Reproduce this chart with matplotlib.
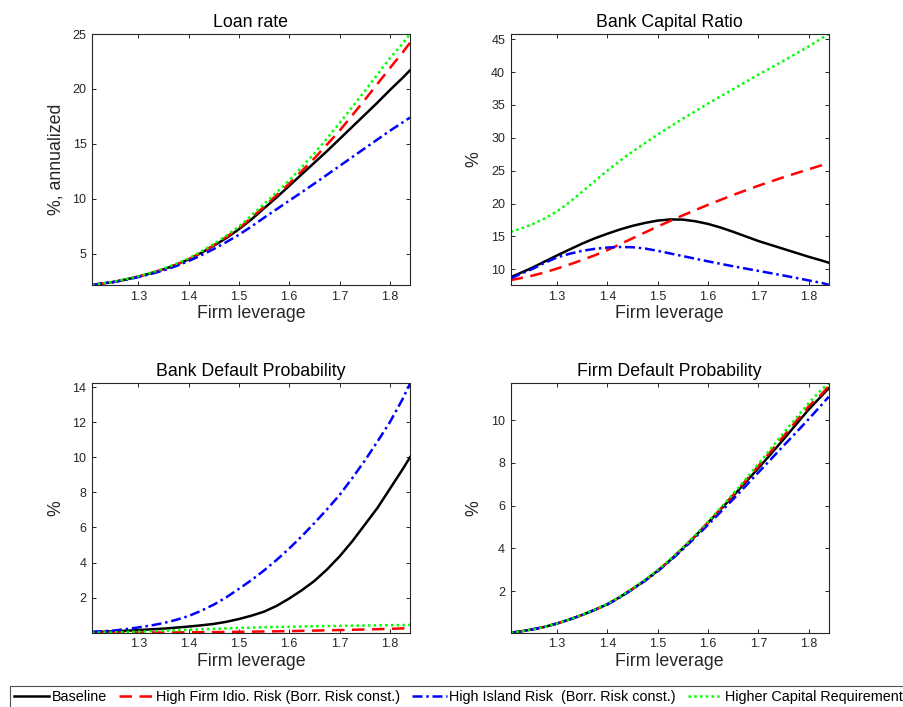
import matplotlib
matplotlib.use("Agg")
import matplotlib.pyplot as plt
from matplotlib.lines import Line2D

plt.rcParams['font.family'] = ['Liberation Sans', 'DejaVu Sans']

# ---------------- data ----------------
leverage = [1.208, 1.225, 1.25, 1.275, 1.30, 1.325, 1.35, 1.375, 1.40, 1.425, 1.45, 1.475,
            1.50, 1.525, 1.55, 1.575, 1.60, 1.625, 1.65, 1.675, 1.70, 1.725, 1.75, 1.775,
            1.80, 1.825, 1.84]

loan_base = [2.18, 2.30, 2.45, 2.68, 2.94, 3.25, 3.60, 4.02, 4.50, 5.10, 5.75, 6.45, 7.25, 8.15,
             9.15, 10.15, 11.2, 12.25, 13.3, 14.35, 15.45, 16.55, 17.65, 18.75, 19.9, 21.0, 21.7]
loan_firm = [2.18, 2.30, 2.45, 2.68, 2.94, 3.25, 3.60, 4.02, 4.50, 5.12, 5.80, 6.55, 7.35, 8.30,
             9.30, 10.35, 11.4, 12.55, 13.7, 14.95, 16.2, 17.6, 19.0, 20.45, 21.9, 23.3, 24.2]
loan_isl = [2.18, 2.30, 2.44, 2.65, 2.90, 3.18, 3.50, 3.90, 4.35, 4.88, 5.45, 6.08, 6.75, 7.50,
            8.30, 9.07, 9.85, 10.62, 11.4, 12.2, 13.0, 13.8, 14.6, 15.4, 16.2, 16.95, 17.4]
loan_cap = [2.18, 2.31, 2.46, 2.70, 2.97, 3.30, 3.66, 4.10, 4.60, 5.22, 5.90, 6.67, 7.50, 8.50,
            9.55, 10.6, 11.7, 12.9, 14.15, 15.5, 16.9, 18.35, 19.8, 21.3, 22.8, 24.1, 25.0]

kr_base = [8.8, 9.35, 10.2, 11.15, 12.1, 13.0, 13.9, 14.7, 15.4, 16.05, 16.6, 17.05, 17.4, 17.58,
           17.55, 17.3, 16.9, 16.35, 15.7, 15.0, 14.3, 13.7, 13.1, 12.5, 11.9, 11.35, 11.0]
kr_firm = [8.35, 8.6, 9.0, 9.5, 10.1, 10.72, 11.4, 12.12, 12.9, 13.8, 14.7, 15.6, 16.5, 17.35,
           18.2, 19.0, 19.8, 20.55, 21.3, 22.0, 22.7, 23.35, 24.0, 24.6, 25.2, 25.8, 26.2]
kr_isl = [8.6, 9.2, 10.0, 10.95, 11.8, 12.35, 12.8, 13.1, 13.3, 13.38, 13.35, 13.15, 12.8, 12.4,
          12.0, 11.6, 11.2, 10.82, 10.45, 10.1, 9.75, 9.4, 9.05, 8.68, 8.3, 7.93, 7.65]
kr_cap = [15.7, 16.1, 16.8, 17.7, 18.8, 20.2, 21.8, 23.4, 25.0, 26.5, 27.9, 29.2, 30.5, 31.7,
          32.9, 34.05, 35.2, 36.3, 37.4, 38.5, 39.6, 40.65, 41.7, 42.8, 43.9, 45.1, 45.8]

bd_base = [0.03, 0.05, 0.08, 0.11, 0.15, 0.19, 0.23, 0.29, 0.35, 0.42, 0.50, 0.62, 0.78, 0.97,
           1.20, 1.53, 1.95, 2.42, 2.95, 3.60, 4.35, 5.20, 6.15, 7.10, 8.20, 9.30, 10.0]
bd_firm = [0.0, 0.003, 0.005, 0.008, 0.01, 0.013, 0.015, 0.018, 0.02, 0.027, 0.035, 0.042, 0.05,
           0.06, 0.07, 0.08, 0.09, 0.105, 0.12, 0.135, 0.15, 0.167, 0.185, 0.20, 0.22, 0.245, 0.26]
bd_isl = [0.05, 0.08, 0.12, 0.20, 0.30, 0.41, 0.55, 0.73, 0.95, 1.25, 1.60, 2.02, 2.50, 3.00,
          3.55, 4.15, 4.80, 5.50, 6.25, 7.03, 7.85, 8.80, 9.80, 10.88, 12.0, 13.3, 14.2]
bd_cap = [0.0, 0.01, 0.02, 0.04, 0.06, 0.085, 0.11, 0.14, 0.17, 0.195, 0.22, 0.245, 0.27, 0.29,
          0.31, 0.325, 0.34, 0.355, 0.37, 0.38, 0.39, 0.40, 0.41, 0.42, 0.43, 0.437, 0.44]

fd_base = [0.05, 0.10, 0.20, 0.32, 0.48, 0.67, 0.88, 1.12, 1.38, 1.72, 2.10, 2.50, 2.95, 3.45,
           4.00, 4.58, 5.20, 5.82, 6.45, 7.10, 7.75, 8.42, 9.10, 9.80, 10.5, 11.12, 11.5]
fd_firm = [0.05, 0.10, 0.20, 0.32, 0.48, 0.67, 0.88, 1.12, 1.38, 1.72, 2.10, 2.50, 2.95, 3.45,
           4.00, 4.58, 5.20, 5.84, 6.50, 7.17, 7.85, 8.55, 9.25, 9.95, 10.65, 11.2, 11.6]
fd_isl = [0.05, 0.10, 0.20, 0.32, 0.48, 0.67, 0.88, 1.12, 1.37, 1.70, 2.08, 2.48, 2.92, 3.42,
          3.95, 4.52, 5.10, 5.70, 6.30, 6.92, 7.55, 8.17, 8.80, 9.42, 10.05, 10.7, 11.1]
fd_cap = [0.05, 0.10, 0.20, 0.32, 0.48, 0.67, 0.89, 1.13, 1.40, 1.74, 2.12, 2.53, 2.98, 3.49,
          4.03, 4.62, 5.25, 5.89, 6.55, 7.24, 7.95, 8.67, 9.40, 10.1, 10.8, 11.42, 11.75]

labels = ["Baseline",
          "High Firm Idio. Risk (Borr. Risk const.)",
          "High Island Risk  (Borr. Risk const.)",
          "Higher Capital Requirement"]
titles = ["Loan rate", "Bank Capital Ratio", "Bank Default Probability", "Firm Default Probability"]
ylabels = ["%, annualized", "%", "%", "%"]
xticks = [1.3, 1.4, 1.5, 1.6, 1.7, 1.8]
yticks = [[5, 10, 15, 20, 25],
          [10, 15, 20, 25, 30, 35, 40, 45],
          [2, 4, 6, 8, 10, 12, 14],
          [2, 4, 6, 8, 10]]
ylims = [(2.18, 25.0), (7.6, 45.8), (0.0, 14.25), (0.05, 11.76)]
xlim = (1.208, 1.84)

panels = [
    (loan_base, loan_firm, loan_isl, loan_cap),
    (kr_base, kr_firm, kr_isl, kr_cap),
    (bd_base, bd_firm, bd_isl, bd_cap),
    (fd_base, fd_firm, fd_isl, fd_cap),
]

styles = [
    dict(color='black', linestyle='-'),
    dict(color='#ff0000', linestyle=(0, (5, 3))),
    dict(color='#0000ff', linestyle=(0, (4, 1.5, 1, 1.5))),
    dict(color='#00ff00', linestyle=(0, (1, 1.3))),
]
LW = 1.8
AXC = '#262626'

W, H = 904, 707
fig = plt.figure(figsize=(W / 100, H / 100), dpi=100)

positions = [
    (92, 34, 410, 285),
    (510.7, 34, 828.7, 285),
    (92, 382.7, 410, 632.7),
    (510.7, 382.7, 828.7, 632.7),
]

for i, (x0, y0, x1, y1) in enumerate(positions):
    ax = fig.add_axes([x0 / W, 1 - y1 / H, (x1 - x0) / W, (y1 - y0) / H])
    series = panels[i]
    for k in range(4):
        ax.plot(leverage, series[k], linewidth=LW, solid_joinstyle='round', **styles[k])
    ax.set_xlim(*xlim)
    ax.set_ylim(*ylims[i])
    ax.set_xticks(xticks)
    ax.set_xticklabels([f"{t:.1f}" for t in xticks])
    ax.set_yticks(yticks[i])
    ax.set_yticklabels([str(t) for t in yticks[i]])
    ax.tick_params(direction='in', length=3, width=0.7, top=True, right=True,
                   labelsize=9, colors=AXC, labelcolor=AXC, pad=4)
    for sp in ax.spines.values():
        sp.set_color(AXC)
        sp.set_linewidth(0.8)
    ax.set_title(titles[i], fontsize=12.8, color='black', pad=5)
    ax.set_xlabel("Firm leverage", fontsize=12.8, color=AXC, labelpad=2)
    ax.set_ylabel(ylabels[i], fontsize=12.8, color=AXC, labelpad=6)

handles = [Line2D([0], [0], linewidth=LW, **styles[k]) for k in range(4)]
leg = fig.legend(handles, labels, loc='upper left',
                 bbox_to_anchor=(10 / W, 1 - 686 / H), ncol=4,
                 frameon=True, fancybox=False, edgecolor=AXC,
                 fontsize=10.4, handlelength=2.4, handletextpad=0.2,
                 columnspacing=0.8, borderpad=0.3, borderaxespad=0.0)
leg.get_frame().set_linewidth(0.8)
for t in leg.get_texts():
    t.set_color('black')

fig.savefig("out.png", dpi=100)
